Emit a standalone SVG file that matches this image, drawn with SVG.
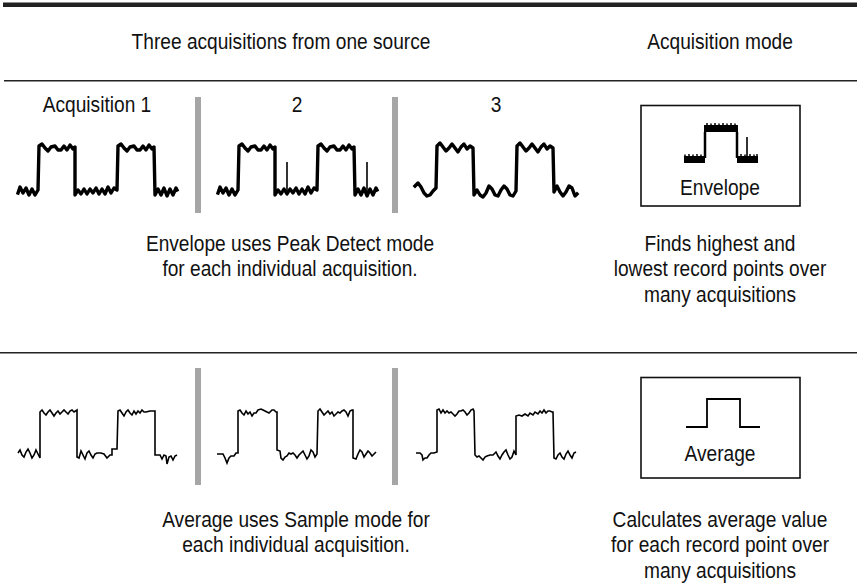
<svg xmlns="http://www.w3.org/2000/svg" width="857" height="585" viewBox="0 0 857 585">
<style>
  text { font-family: "Liberation Sans", Arial, sans-serif; font-size: 22px; fill: #111; text-anchor: middle; }
  .rule { fill: #222; }
  .bar { fill: #a6a6a6; }
  .box { fill: none; stroke: #111; stroke-width: 1.6; }
  .wt { fill: none; stroke: #000; stroke-width: 3.4; stroke-linejoin: round; stroke-linecap: square; }
  .wn { fill: none; stroke: #000; stroke-width: 1.6; stroke-linejoin: miter; }
  .spk { stroke: #000; stroke-width: 1.6; }
</style>
<defs>
  <g id="topwave">
    <polyline class="wt" points="18,193 20,187 23,193 26,188 29,195 32,189 35,195 38,190 39,146 42,144 45,148 48,151 51,147 55,146 58,150 61,150 64,146 67,150 70,145 73,149 75,147 75,195 78,190 81,194 84,189 87,194 90,189 93,193 96,188 99,194 102,189 105,194 108,187 111,193 114,188 117,190 118,146 121,144 124,148 127,151 130,147 134,146 137,150 140,150 143,146 146,150 149,145 152,149 154,147 155,195 158,189 161,195 164,188 167,196 170,189 173,195 176,188 177,190"/>
  </g>
</defs>

<g id="rules">
  <rect class="rule" x="3" y="2.5" width="854" height="4.5"/>
  <rect class="rule" x="4" y="80" width="853" height="1.5"/>
  <rect class="rule" x="0" y="352" width="857" height="1.5"/>
</g>

<g id="headers">
  <text transform="translate(281,49) scale(0.87,1)">Three acquisitions from one source</text>
  <text transform="translate(720,49) scale(0.87,1)">Acquisition mode</text>
</g>

<g id="labels">
  <text transform="translate(97,112) scale(0.87,1)">Acquisition 1</text>
  <text transform="translate(297,112) scale(0.87,1)">2</text>
  <text transform="translate(496,112) scale(0.87,1)">3</text>
</g>

<g id="dividers">
  <rect class="bar" x="195" y="97" width="6" height="116"/>
  <rect class="bar" x="392" y="97" width="6" height="116"/>
  <rect class="bar" x="195" y="368" width="6" height="117"/>
  <rect class="bar" x="392" y="368" width="6" height="117"/>
</g>

<g id="envelope-acq1">
  <use href="#topwave"/>
</g>
<g id="envelope-acq2">
  <use href="#topwave" x="200"/>
  <line class="spk" x1="287" y1="162" x2="287" y2="194"/>
  <line class="spk" x1="367" y1="162" x2="367" y2="194"/>
</g>
<g id="envelope-acq3">
  <polyline class="wt" points="415,186 418,183 421,187 424,193 427,196 430,195 433,191 436,188 437,146 440,143 443,147 446,151 449,148 452,144 455,148 458,152 461,147 464,144 467,149 470,146 473,148 474,195 477,190 480,195 483,197 486,193 489,186 492,189 495,195 498,196 501,190 504,186 507,189 510,195 513,196 516,191 517,146 520,143 523,147 526,151 529,148 532,144 535,148 538,152 541,147 544,144 547,149 550,146 553,148 554,192 557,186 560,192 563,196 566,192 569,186 572,188 575,196 577,194"/>
</g>

<g id="envelope-mode">
  <rect class="box" x="641" y="105.5" width="159" height="100.5"/>
  <g fill="#000">
    <rect x="684" y="156" width="21" height="7"/>
    <rect x="704" y="125" width="34" height="7"/>
    <rect x="737" y="156" width="21" height="7"/>
  </g>
  <path d="M685,156v-1.5M689,156v-2M693,156v-1.5M697,156v-2M701,156v-1.5M707,125v-2M711,125v-1.5M715,125v-2M719,125v-1.5M723,125v-2M727,125v-1.5M731,125v-2M735,125v-1.5M741,156v-2M745,156v-1.5M750,156v-2M754,156v-1.5M757,156v-2" stroke="#000" stroke-width="1.5" fill="none"/>
  <line x1="705" y1="132" x2="705" y2="158" stroke="#000" stroke-width="2.5"/>
  <line x1="737" y1="132" x2="737" y2="158" stroke="#000" stroke-width="2.5"/>
  <line class="spk" x1="747" y1="137" x2="747" y2="157"/>
  <text transform="translate(720,195) scale(0.87,1)">Envelope</text>
</g>

<g id="envelope-notes">
  <text transform="translate(290,251) scale(0.87,1)">Envelope uses Peak Detect mode</text>
  <text transform="translate(290,276) scale(0.87,1)">for each individual acquisition.</text>
  <text transform="translate(720,251) scale(0.87,1)">Finds highest and</text>
  <text transform="translate(720,276) scale(0.87,1)">lowest record points over</text>
  <text transform="translate(720,302) scale(0.87,1)">many acquisitions</text>
</g>

<g id="average-acq1">
  <polyline class="wn" points="18,453 20,450 22,455 24,457 26,452 28,449 30,453 32,458 34,455 36,450 38,454 40,458 40,412 42,410 44,413 46,415 48,412 50,410 52,413 54,416 56,413 58,411 60,414 62,412 64,410 66,412 68,414 70,411 72,410 74,412 77,410 77,457 79,458 81,451 83,455 85,459 87,453 89,451 91,455 93,458 95,454 97,453 101,453 104,454 107,458 110,455 112,455 112,449 117,449 118,411 120,410 122,413 124,416 126,412 128,410 130,413 132,415 134,411 136,414 138,411 140,413 142,410 144,412 146,412 150,411 153,411 155,411 155,455 160,455 162,459 164,455 166,456 167,464 169,457 171,456 173,460 175,456 177,455"/>
</g>
<g id="average-acq2">
  <polyline class="wn" points="217,454 223,454 225,458 227,463 229,458 231,456 234,456 236,453 238,453 238,411 240,410 242,413 244,415 246,411 248,414 250,412 252,416 254,413 256,413 258,410 261,409 263,410 265,411 269,413 272,410 274,410 276,412 277,412 277,450 280,451 281,458 283,460 285,457 287,456 289,453 291,454 293,453 295,455 297,458 299,455 301,453 303,451 305,455 307,459 309,456 311,450 313,452 315,457 317,454 318,411 320,409 322,412 324,415 326,413 328,411 330,414 332,412 334,416 336,414 338,412 340,413 342,411 344,410 346,412 348,416 350,411 352,410 353,410 353,458 356,459 358,454 360,450 362,452 364,457 366,454 368,451 370,453 372,456 374,454 376,452"/>
</g>
<g id="average-acq3">
  <polyline class="wn" points="416,453 420,453 422,455 423,460 425,458 427,458 429,455 431,453 434,453 437,452 437,410 439,409 441,413 443,410 445,413 447,411 449,413 451,412 453,414 455,416 457,414 459,411 461,411 463,410 465,412 467,415 469,413 471,410 473,409 474,411 475,455 477,457 479,456 481,458 483,460 485,457 487,456 490,455 493,455 496,452 498,456 500,459 502,455 504,452 506,450 508,455 510,459 512,457 514,451 516,455 516,416 519,415 522,416 525,414 528,416 530,413 533,415 535,412 538,414 540,411 542,413 544,410 546,413 548,411 550,411 552,412 553,412 554,458 556,459 558,455 560,453 562,457 564,459 566,454 568,451 570,455 572,458 574,453 576,452"/>
</g>

<g id="average-mode">
  <rect class="box" x="641" y="377.5" width="159" height="100.5"/>
  <polyline fill="none" stroke="#000" stroke-width="1.8" points="686,427 707,427 707,399 740,399 740,427 760,427"/>
  <text transform="translate(720,461) scale(0.87,1)">Average</text>
</g>

<g id="average-notes">
  <text transform="translate(296,527) scale(0.87,1)">Average uses Sample mode for</text>
  <text transform="translate(296,552) scale(0.87,1)">each individual acquisition.</text>
  <text transform="translate(720,527) scale(0.87,1)">Calculates average value</text>
  <text transform="translate(720,552) scale(0.87,1)">for each record point over</text>
  <text transform="translate(720,578) scale(0.87,1)">many acquisitions</text>
</g>
</svg>
